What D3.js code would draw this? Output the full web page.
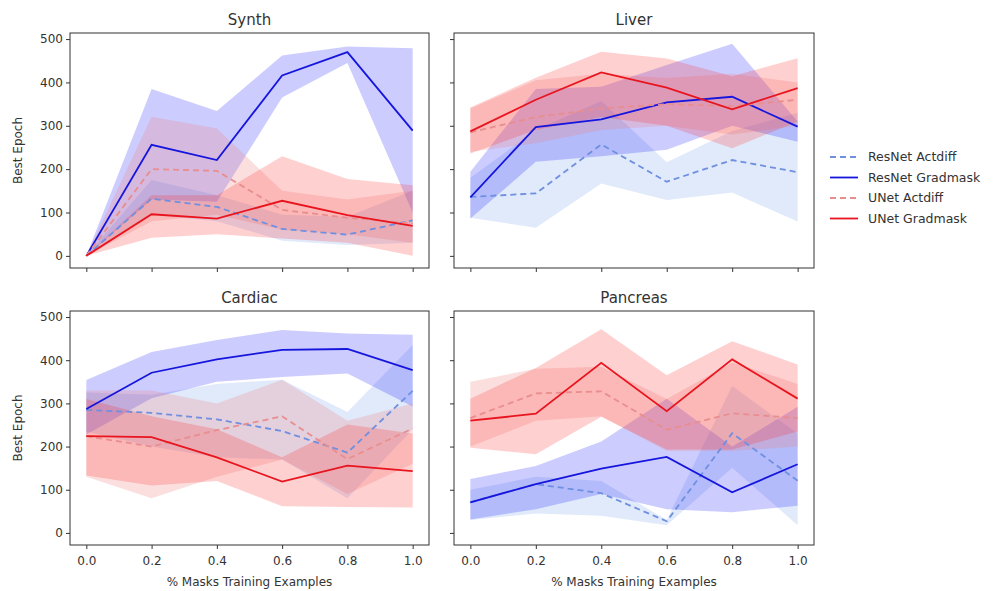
<!DOCTYPE html>
<meta charset="utf-8">
<style>
body { margin: 0; background: white; }
text { font-family: "DejaVu Sans", sans-serif; fill: #333; }
.axis path, .axis line { stroke: #333; }
</style>
<body>
<script src="https://d3js.org/d3.v7.min.js"></script>
<script>

const width = 993
const height = 591

// x values shared by every panel
const fractions = [0.0, 0.2, 0.4, 0.6, 0.8, 1.0]
const xTicks = [0.0, 0.2, 0.4, 0.6, 0.8, 1.0]
const yTicks = [0, 100, 200, 300, 400, 500]

const panelNames = ['Synth', 'Liver', 'Cardiac', 'Pancreas']
const seriesNames = ['ResNet Actdiff', 'ResNet Gradmask', 'UNet Actdiff', 'UNet Gradmask']

// mean, lower, upper for each series per panel
const synthResActMean = [0, 132, 113, 62, 49, 82]
const synthResActLow = [0, 95, 80, 35, 25, 30]
const synthResActHigh = [0, 175, 140, 95, 90, 150]
const synthResGradMean = [0, 256, 221, 416, 470, 289]
const synthResGradLow = [0, 130, 125, 365, 445, 100]
const synthResGradHigh = [0, 385, 334, 462, 483, 479]
const synthUActMean = [0, 200, 196, 106, 88, 75]
const synthUActLow = [0, 80, 95, 60, 50, 30]
const synthUActHigh = [0, 321, 294, 150, 130, 150]
const synthUGradMean = [0, 96, 86, 127, 94, 69]
const synthUGradLow = [0, 42, 50, 40, 30, 0]
const synthUGradHigh = [0, 140, 140, 230, 177, 163]

const liverResActMean = [136, 144, 257, 171, 221, 193]
const liverResActLow = [88, 65, 167, 129, 146, 79]
const liverResActHigh = [180, 290, 357, 216, 288, 330]
const liverResGradMean = [135, 297, 315, 354, 367, 298]
const liverResGradLow = [86, 217, 230, 245, 300, 263]
const liverResGradHigh = [194, 385, 390, 440, 489, 310]
const liverUActMean = [285, 320, 340, 350, 345, 360]
const liverUActLow = [240, 260, 290, 300, 280, 300]
const liverUActHigh = [340, 405, 420, 410, 420, 400]
const liverUGradMean = [287, 360, 423, 388, 338, 387]
const liverUGradLow = [236, 290, 320, 300, 248, 310]
const liverUGradHigh = [342, 411, 471, 455, 414, 456]

const cardiacResActMean = [285, 278, 263, 236, 186, 329]
const cardiacResActLow = [235, 200, 175, 170, 80, 240]
const cardiacResActHigh = [325, 320, 345, 355, 280, 435]
const cardiacResGradMean = [287, 371, 402, 424, 426, 377]
const cardiacResGradLow = [228, 312, 350, 361, 369, 293]
const cardiacResGradHigh = [354, 419, 447, 470, 462, 459]
const cardiacUActMean = [224, 200, 238, 270, 171, 242]
const cardiacUActLow = [130, 80, 130, 170, 90, 160]
const cardiacUActHigh = [330, 330, 300, 355, 260, 300]
const cardiacUGradMean = [224, 222, 175, 119, 156, 143]
const cardiacUGradLow = [133, 110, 120, 62, 60, 59]
const cardiacUGradHigh = [310, 270, 240, 175, 251, 230]

const pancResActMean = [71, 113, 92, 27, 231, 121]
const pancResActLow = [30, 45, 40, 18, 151, 18]
const pancResActHigh = [100, 130, 120, 30, 340, 230]
const pancResGradMean = [71, 113, 149, 176, 94, 159]
const pancResGradLow = [31, 55, 90, 55, 48, 63]
const pancResGradHigh = [125, 155, 212, 311, 200, 292]
const pancUActMean = [266, 323, 328, 239, 277, 266]
const pancUActLow = [200, 260, 270, 190, 190, 200]
const pancUActHigh = [350, 380, 385, 310, 395, 345]
const pancUGradMean = [260, 276, 394, 282, 402, 311]
const pancUGradLow = [197, 182, 269, 193, 193, 235]
const pancUGradHigh = [311, 382, 472, 365, 444, 390]

const colors = ['#6f8fe0', '#1515dd', '#e88e8e', '#e8141e']
const fills = ['rgba(100,149,237,0.2)', 'rgba(0,0,255,0.2)', 'rgba(240,128,128,0.25)', 'rgba(255,40,40,0.22)']
const dashes = ['6,4', null, '6,4', null]

const panelData = [
	[[synthResActMean, synthResActLow, synthResActHigh], [synthResGradMean, synthResGradLow, synthResGradHigh],
	 [synthUActMean, synthUActLow, synthUActHigh], [synthUGradMean, synthUGradLow, synthUGradHigh]],
	[[liverResActMean, liverResActLow, liverResActHigh], [liverResGradMean, liverResGradLow, liverResGradHigh],
	 [liverUActMean, liverUActLow, liverUActHigh], [liverUGradMean, liverUGradLow, liverUGradHigh]],
	[[cardiacResActMean, cardiacResActLow, cardiacResActHigh], [cardiacResGradMean, cardiacResGradLow, cardiacResGradHigh],
	 [cardiacUActMean, cardiacUActLow, cardiacUActHigh], [cardiacUGradMean, cardiacUGradLow, cardiacUGradHigh]],
	[[pancResActMean, pancResActLow, pancResActHigh], [pancResGradMean, pancResGradLow, pancResGradHigh],
	 [pancUActMean, pancUActLow, pancUActHigh], [pancUGradMean, pancUGradLow, pancUGradHigh]]
]

// panel boxes: left, top, right, bottom
const boxes = [
	[70, 33, 429, 268],
	[454, 33, 814, 268],
	[70, 311, 429, 545],
	[454, 311, 814, 545]
]

const svg = d3.select('body')
	.append('svg')
	.attr('width', width)
	.attr('height', height)

panelData.forEach((series, p) => {
	const [x0, y0, x1, y1] = boxes[p]
	const x = d3.scaleLinear().domain([-0.05, 1.05]).range([x0, x1])
	const y = d3.scaleLinear().domain([-28, 514]).range([y1, y0])
	const g = svg.append('g')

	// bands first
	series.forEach((s, i) => {
		const area = d3.area()
			.x((d, j) => x(fractions[j]))
			.y0((d, j) => y(s[1][j]))
			.y1((d, j) => y(s[2][j]))
		g.append('path')
			.attr('d', area(s[0]))
			.attr('fill', fills[i])
	})

	// mean lines on top
	series.forEach((s, i) => {
		const line = d3.line()
			.x((d, j) => x(fractions[j]))
			.y(d => y(d))
		g.append('path')
			.attr('d', line(s[0]))
			.attr('fill', 'none')
			.attr('stroke', colors[i])
			.attr('stroke-width', 1.8)
			.attr('stroke-dasharray', dashes[i])
	})

	// frame
	g.append('rect')
		.attr('x', x0).attr('y', y0)
		.attr('width', x1 - x0).attr('height', y1 - y0)
		.attr('fill', 'none')
		.attr('stroke', '#333')
		.attr('stroke-width', 1)

	const bottomRow = p >= 2
	const leftCol = p % 2 == 0

	const xAxis = d3.axisBottom(x).tickValues(xTicks).tickSizeOuter(0).tickSize(4)
		.tickFormat(bottomRow ? d3.format('.1f') : '')
	const xa = g.append('g').attr('class', 'axis')
		.attr('transform', `translate(0,${y1})`)
		.call(xAxis)
	xa.select('.domain').remove()
	xa.selectAll('text').style('font-size', '12px').attr('dy', '1.1em')

	const yAxis = d3.axisLeft(y).tickValues(yTicks).tickSizeOuter(0).tickSize(4)
		.tickFormat(leftCol ? d3.format('d') : '')
	const ya = g.append('g').attr('class', 'axis')
		.attr('transform', `translate(${x0},0)`)
		.call(yAxis)
	ya.select('.domain').remove()
	ya.selectAll('text').style('font-size', '12px')

	g.append('text')
		.attr('x', (x0 + x1) / 2)
		.attr('y', y0 - 8)
		.attr('text-anchor', 'middle')
		.style('font-size', '15px')
		.text(panelNames[p])

	if (leftCol) {
		g.append('text')
			.attr('transform', `translate(22,${(y0 + y1) / 2}) rotate(-90)`)
			.attr('text-anchor', 'middle')
			.style('font-size', '12px')
			.text('Best Epoch')
	}
	if (bottomRow) {
		g.append('text')
			.attr('x', (x0 + x1) / 2)
			.attr('y', 586)
			.attr('text-anchor', 'middle')
			.style('font-size', '12px')
			.text('% Masks Training Examples')
	}
})

// legend
const legend = svg.append('g').attr('transform', 'translate(830,157)')
seriesNames.forEach((name, i) => {
	const row = legend.append('g').attr('transform', `translate(0,${i * 20.5})`)
	row.append('line')
		.attr('x1', 0).attr('x2', 28)
		.attr('stroke', colors[i])
		.attr('stroke-width', 1.8)
		.attr('stroke-dasharray', dashes[i])
	row.append('text')
		.attr('x', 38).attr('dy', '0.35em')
		.style('font-size', '12.5px')
		.text(name)
})

</script>
</body>
</html>
